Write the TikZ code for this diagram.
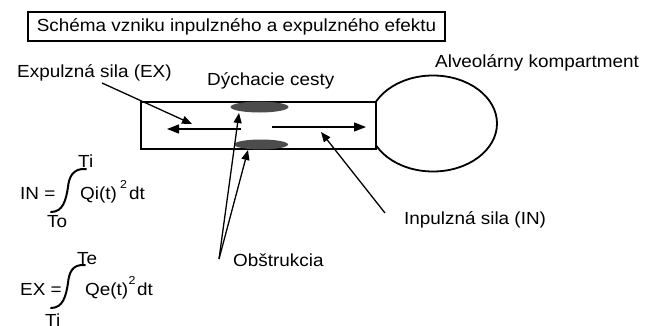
\documentclass[tikz,border=0pt]{standalone}
\usepackage{fontspec}
\setmainfont{Liberation Sans}[FakeStretch=1.08]
\usetikzlibrary{arrows.meta,shapes.geometric}
\begin{document}
\begin{tikzpicture}[x=1pt,y=-1pt,
  txt/.style={font=\fontsize{17.5}{20}\selectfont, inner sep=0pt, anchor=base west},
  supr/.style={font=\fontsize{11.5}{13}\selectfont, inner sep=0pt, anchor=base west},
  wall/.style={line width=1.8pt},
  pointer/.style={line width=1.3pt},
  bigtip/.style={-{Triangle[length=12pt,width=9pt]}},
  smalltip/.style={-{Triangle[length=10pt,width=8pt]}},
  blob/.style={ellipse, fill=black!70, draw=none, inner sep=0pt},
  integral/.style={line width=2pt, line cap=round}]
\useasboundingbox (0,0) rectangle (652,326);

% heading box
\node[draw, line width=1.3pt, minimum width=417pt, minimum height=29pt, inner sep=0pt,
      font=\fontsize{17.5}{20}\selectfont] (title) at (236.5,26.5)
  {Schéma vzniku inpulzného a expulzného efektu};

% alveolar compartment and airway
\node[ellipse, draw, wall, minimum width=128pt, minimum height=96pt, inner sep=0pt] (alv) at (433,123.5) {};
\node[draw, wall, fill=white, minimum width=235pt, minimum height=47pt, inner sep=0pt] (tube) at (258.5,125.5) {};

% obstructions on the airway walls
\node[blob, minimum width=58pt, minimum height=11pt] (obsU) at (259.5,107) {};
\node[blob, minimum width=54pt, minimum height=10pt] (obsL) at (261,144.5) {};

% flow arrows inside the airway
\coordinate (exs) at (241,129);
\coordinate (exe) at (167,129);
\coordinate (ins) at (272,127);
\coordinate (ine) at (366,127);
\draw[pointer, bigtip] (exs) -- (exe);
\draw[pointer, bigtip] (ins) -- (ine);

% labels
\node[txt] (exlbl) at (17,78) {Expulzná sila (EX)};
\node[txt] (dclbl) at (207,86) {Dýchacie cesty};
\node[txt] (alvlbl) at (435,68) {Alveolárny kompartment};
\node[txt] (inlbl) at (404,224) {Inpulzná sila (IN)};
\node[txt] (oblbl) at (233,266) {Obštrukcia};

% pointers from the labels
\coordinate (exfrom) at (102,83);
\coordinate (exto) at (192,124);
\coordinate (infrom) at (385,213);
\coordinate (into) at (321,132);
\coordinate (obfrom) at (219,259);
\coordinate (obtoU) at (239,113);
\coordinate (obtoL) at (248,150);
\draw[pointer, smalltip] (exfrom) -- (exto);
\draw[pointer, smalltip] (infrom) -- (into);
\draw[pointer, smalltip] (obfrom) -- (obtoU);
\draw[pointer, smalltip] (obfrom) -- (obtoL);

% IN formula
\node[txt] (inl) at (20,199) {IN =};
\draw[integral] (86,169) .. controls (73,168) and (69,177) .. (68,187)
                .. controls (66,200) and (63,212) .. (51,212);
\node[txt] (inhi) at (78,167) {Ti};
\node[txt] (inlo) at (47,227) {To};
\node[txt] (inq) at (80,199) {Qi(t)};
\node[supr] (insq) at (120,188) {2};
\node[txt] (indt) at (129,199) {dt};

% EX formula
\node[txt] (exl) at (20,295) {EX =};
\draw[integral] (85,265) .. controls (72,264) and (69,273) .. (68,283)
                .. controls (66,296) and (63,308) .. (51,308);
\node[txt] (exhi) at (77,264) {Te};
\node[txt] (exlo) at (45,326) {Ti};
\node[txt] (exq) at (85,295) {Qe(t)};
\node[supr] (exsq) at (128.5,284) {2};
\node[txt] (exdt) at (137,295) {dt};
\end{tikzpicture}
\end{document}
